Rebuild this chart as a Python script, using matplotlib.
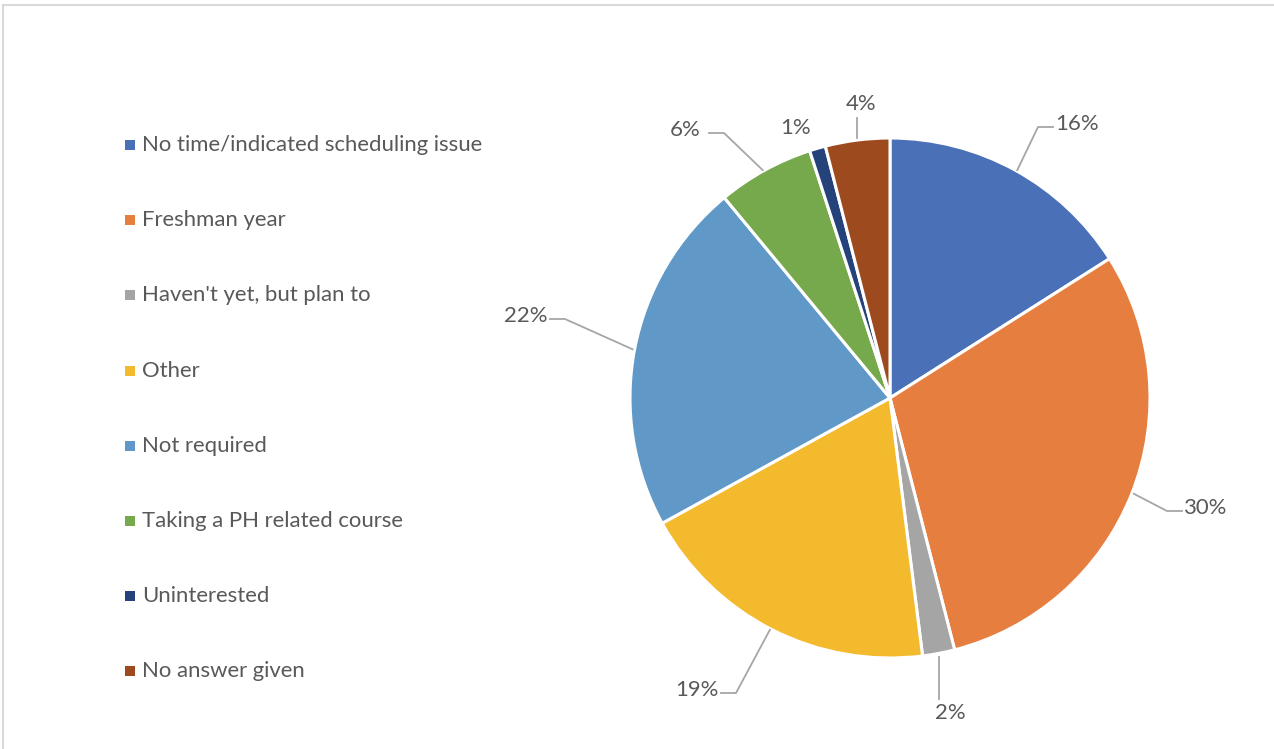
import numpy as np
import matplotlib
matplotlib.use("Agg")
import matplotlib.pyplot as plt

categories = ["No time/indicated scheduling issue", "Freshman year", "Haven't yet, but plan to",
              "Other", "Not required", "Taking a PH related course", "Uninterested", "No answer given"]
values = [16, 30, 2, 19, 22, 6, 1, 4]
colors = ["#4A70B8", "#E67E3F", "#A5A5A5", "#F4BA2E", "#6098C8", "#76A84C", "#26427A", "#9C4A1E"]

# layout (pixel coords, y downward)
W, H = 1274, 749
cx, cy, R = 890, 398, 260
label_pos = [(1077, 124), (1206, 508), (950, 713), (697, 690), (526, 316), (685, 130), (796, 128), (861, 104)]
label_style = ["elbow", "elbow", "vert", "elbow", "elbow", "elbow", "none", "vert"]
txt_col = "#595959"
line_col = "#A6A6A6"
FONT = "Lato"
FS = 15.9

fig = plt.figure(figsize=(W / 100, H / 100), dpi=100)
ax = fig.add_axes([0, 0, 1, 1])

wedges, _ = ax.pie(values, colors=colors, startangle=90, counterclock=False,
                   center=(cx, H - cy), radius=R,
                   wedgeprops=dict(edgecolor="white", linewidth=2.2), frame=True)
ax.set_xlim(0, W)
ax.set_ylim(0, H)
ax.set_aspect("equal")
ax.axis("off")

for w, v, (lx, ly), st in zip(wedges, values, label_pos, label_style):
    mid = np.deg2rad((w.theta1 + w.theta2) / 2)
    ex, ey = cx + R * np.cos(mid), (H - cy) + R * np.sin(mid)
    ly_d = H - ly
    ax.text(lx, ly_d, f"{v}%", ha="center", va="center", fontsize=FS, color=txt_col, family=FONT)
    if st == "elbow":
        side = 1 if lx > ex else -1
        half = 22
        x_end = lx - side * (half + 2)
        x_elb = lx - side * (half + 17)
        ax.plot([ex + side * 2, x_elb, x_end], [ey, ly_d - 3, ly_d - 3], color=line_col, lw=1.3)
    elif st == "vert":
        if ly_d < ey:
            ax.plot([ex, ex], [ey - 4, ly_d + 14], color=line_col, lw=1.3)
        else:
            ax.plot([ex, ex], [ey + 2, ly_d - 14], color=line_col, lw=1.3)

# legend
leg_y0, leg_dy = 145, 75.2
for i, (c, lab) in enumerate(zip(colors, categories)):
    y = H - (leg_y0 + i * leg_dy)
    ax.scatter([130], [y], marker="s", s=42, color=c, linewidths=0)
    ax.text(142, y, lab, ha="left", va="center", fontsize=FS, color=txt_col, family=FONT)

# frame lines (top and left)
ax.plot([3, W], [H - 5, H - 5], color="#D9D9D9", lw=1.5)
ax.plot([3, 3], [H - 5, 0], color="#D9D9D9", lw=1.5)

fig.savefig("out.png", dpi=100)
